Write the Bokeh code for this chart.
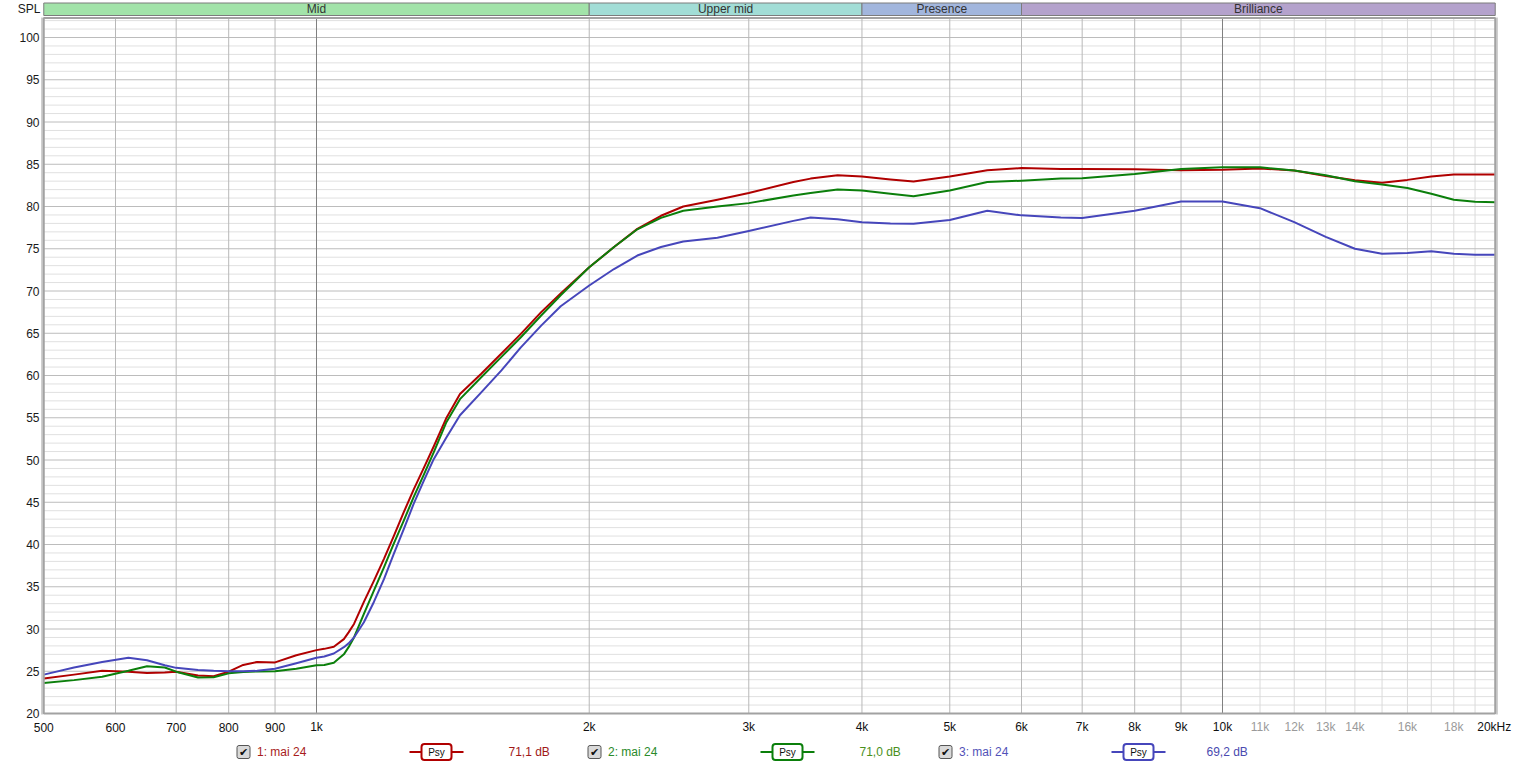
import math
from bokeh.plotting import figure
from bokeh.models import Range1d
from bokeh.embed import file_html
from bokeh.resources import INLINE
from bokeh.core.properties import value

# ---------------- data ----------------
FREQ = [500, 540, 580, 620, 650, 680, 700, 740, 770, 800, 830, 860, 900, 950, 1000,
        1020, 1045, 1072, 1085, 1100, 1128, 1157, 1187, 1217, 1248, 1280, 1314, 1347, 1390, 1440,
        1520, 1600, 1680, 1770, 1860, 2000, 2130, 2260, 2400, 2540, 2770, 3000, 3360,
        3510, 3760, 4000, 4300, 4560, 5000, 5500, 6000, 6630, 7000, 8000, 9000, 10000,
        11000, 12000, 13000, 14000, 15000, 16000, 17000, 18000, 19000, 20000]

SPL_1 = [24.15, 24.6, 25.05, 24.95, 24.8, 24.85, 24.95, 24.5, 24.4, 24.95, 25.75, 26.1, 26.05, 26.9, 27.5,
         27.65, 27.9, 28.8, 29.6, 30.6, 33.2, 35.7, 38.3, 41.0, 43.8, 46.5, 49.1, 51.6, 54.9, 57.8,
         60.2, 62.6, 64.9, 67.5, 69.7, 72.8, 75.2, 77.35, 78.9, 80.0, 80.8, 81.6, 82.9,
         83.3, 83.7, 83.55, 83.2, 82.95, 83.55, 84.3, 84.55, 84.45, 84.45, 84.4, 84.3, 84.35,
         84.5, 84.25, 83.6, 83.1, 82.8, 83.15, 83.55, 83.8, 83.8, 83.8]

SPL_2 = [23.6, 23.95, 24.35, 25.05, 25.6, 25.45, 24.95, 24.25, 24.3, 24.75, 24.9, 24.98, 25.0, 25.3, 25.7,
         25.75, 26.0, 27.0, 27.85, 29.0, 31.8, 34.55, 37.3, 40.1, 42.8, 45.6, 48.3, 50.9, 54.4, 57.2,
         59.8, 62.2, 64.5, 67.1, 69.5, 72.8, 75.2, 77.3, 78.65, 79.5, 80.0, 80.4, 81.3,
         81.6, 82.0, 81.9, 81.5, 81.2, 81.9, 82.9, 83.05, 83.3, 83.35, 83.85, 84.45, 84.65,
         84.65, 84.25, 83.7, 83.0, 82.6, 82.2, 81.5, 80.8, 80.55, 80.5]

SPL_3 = [24.6, 25.45, 26.1, 26.6, 26.3, 25.7, 25.4, 25.15, 25.05, 25.0, 25.0, 25.05, 25.3, 25.95, 26.6,
         26.75, 27.1, 27.85, 28.3, 29.0, 30.8, 33.2, 35.9, 38.9, 41.8, 44.8, 47.6, 50.1, 52.6, 55.3,
         58.0, 60.6, 63.3, 65.9, 68.2, 70.65, 72.6, 74.2, 75.2, 75.85, 76.3, 77.1, 78.3,
         78.7, 78.5, 78.15, 78.0, 77.95, 78.4, 79.5, 78.95, 78.7, 78.65, 79.5, 80.6, 80.6,
         79.8, 78.15, 76.4, 75.0, 74.4, 74.5, 74.7, 74.4, 74.3, 74.3]

SERIES = [SPL_1, SPL_2, SPL_3]
SERIES_NAMES = ["1: mai 24", "2: mai 24", "3: mai 24"]
SERIES_AVG = ["71,1 dB", "71,0 dB", "69,2 dB"]
LINE_COLORS = ["#b00000", "#0b7f0b", "#4646bb"]
NAME_COLORS = ["#a81c1c", "#2a8a2a", "#5252b8"]
AVG_COLORS = ["#a01818", "#4a901c", "#4a4ab0"]

BANDS = ["Mid", "Upper mid", "Presence", "Brilliance"]
BAND_START = [500, 2000, 4000, 6000]
BAND_END = [2000, 4000, 6000, 20000]
BAND_COLORS = ["#a2e3a9", "#a2ddd6", "#a2b6dd", "#b4a2cc"]

Y_TICKS = list(range(20, 101, 5))
Y_MINOR = list(range(21, 103))

X_TICKS = [500, 600, 700, 800, 900, 1000, 2000, 3000, 4000, 5000, 6000, 7000, 8000,
           9000, 10000, 11000, 12000, 13000, 14000, 16000, 18000]
X_TICK_LABELS = ["500", "600", "700", "800", "900", "1k", "2k", "3k", "4k", "5k", "6k",
                 "7k", "8k", "9k", "10k", "11k", "12k", "13k", "14k", "16k", "18k"]
X_TICK_COLORS = ["#111111"] * 15 + ["#9a9a9a"] * 6
X_LAST_TICK = 20000
X_LAST_LABEL = "20kHz"

X_GRID = [600, 700, 800, 900, 2000, 3000, 4000, 5000, 6000, 7000, 8000, 9000]
X_GRID_DARK = [1000, 10000]
X_GRID_LIGHT = [11000, 12000, 13000, 14000, 15000, 16000, 17000, 18000, 19000]

# ---------------- layout helpers (page pixel -> data) ----------------
W, H = 1515, 765


def hz(px):
    return 1000.0 * 10 ** ((px - 316.0) / 906.0)


def db(py):
    return 20.0 + (713.0 - py) / 8.45


F_MIN, F_MAX = 500, 20000
DB_MIN, DB_TOP = 20, db(17.5)

FONT = value("Liberation Sans")

p = figure(width=W, height=H, x_axis_type="log",
           x_range=Range1d(hz(0), hz(W)), y_range=Range1d(db(H), db(0)),
           output_backend="svg", toolbar_location=None,
           x_axis_location=None, y_axis_location=None, min_border=0)
p.outline_line_color = None
p.background_fill_color = "white"
p.border_fill_color = "white"
p.grid.visible = False

# grid
minor = [d for d in Y_MINOR if d % 5 != 0]
major = [d for d in Y_MINOR if d % 5 == 0]
p.segment(x0=[F_MIN] * len(minor), x1=[F_MAX] * len(minor), y0=minor, y1=minor,
          line_color="#e0e0e0", line_width=1)
p.segment(x0=X_GRID_LIGHT, x1=X_GRID_LIGHT, y0=[DB_MIN] * len(X_GRID_LIGHT),
          y1=[DB_TOP] * len(X_GRID_LIGHT), line_color="#dadada", line_width=1)
p.segment(x0=[F_MIN] * len(major), x1=[F_MAX] * len(major), y0=major, y1=major,
          line_color="#bcbcbc", line_width=1)
p.segment(x0=X_GRID, x1=X_GRID, y0=[DB_MIN] * len(X_GRID), y1=[DB_TOP] * len(X_GRID),
          line_color="#b8b8b8", line_width=1)
p.segment(x0=X_GRID_DARK, x1=X_GRID_DARK, y0=[DB_MIN] * 2, y1=[DB_TOP] * 2,
          line_color="#808080", line_width=1)

# curves
for vals, col in zip(SERIES, LINE_COLORS):
    p.line(FREQ, vals, line_color=col, line_width=2, line_join="round")

# frame border with shadow
p.segment(x0=[hz(41.5), hz(1496.5)], x1=[hz(41.5), hz(1496.5)], y0=[db(714)] * 2,
          y1=[db(17)] * 2, line_color="#cfcfcf", line_width=2)
p.quad(left=F_MIN, right=F_MAX, bottom=DB_MIN, top=DB_TOP, fill_color=None,
       line_color="#a2a2a2", line_width=2)

# band on top
p.quad(left=BAND_START, right=BAND_END, bottom=db(15.0), top=db(2.5),
       fill_color=BAND_COLORS, line_color="#7c7c7c", line_width=1)
p.text(x=[math.sqrt(a * b) for a, b in zip(BAND_START, BAND_END)], y=[db(8.8)] * len(BANDS),
       text=BANDS, text_font=FONT, text_font_size="12px", text_color="#333333",
       text_align="center", text_baseline="middle")

# axis labels
p.text(x=[hz(39)] * len(Y_TICKS), y=Y_TICKS, text=[str(t) for t in Y_TICKS],
       text_font=FONT, text_font_size="12px", text_color="#1a1a1a",
       text_align="right", text_baseline="middle")
p.text(x=[hz(40)], y=[db(8.5)], text=["SPL"], text_font=FONT, text_font_size="12px",
       text_color="#1a1a1a", text_align="right", text_baseline="middle")
p.text(x=X_TICKS, y=[db(726.5)] * len(X_TICKS), text=X_TICK_LABELS, text_font=FONT,
       text_font_size="12px", text_color=X_TICK_COLORS, text_align="center",
       text_baseline="middle")
p.text(x=[X_LAST_TICK], y=[db(726.5)], text=[X_LAST_LABEL], text_font=FONT,
       text_font_size="12px", text_color="#111111", text_align="center",
       text_baseline="middle", x_offset=-1)

# legend row
LEG_Y = db(751.5)
CHECK_X = [243, 594, 945]
NAME_X = [256.5, 607.5, 958.5]
PSY_X = [436, 787, 1138]
AVG_X = [508, 859, 1206]

p.rect(x=[hz(c) for c in CHECK_X], y=[LEG_Y] * 3, width=13, height=13,
       width_units="screen", height_units="screen", fill_color="#d9d9d9",
       line_color="#555555", line_width=1, border_radius=2)
p.text(x=[hz(c) for c in CHECK_X], y=[LEG_Y] * 3, text=["\u2714"] * 3,
       text_font=value("DejaVu Sans"), text_font_size="11px", text_color="#111111",
       text_align="center", text_baseline="middle")
p.text(x=[hz(c) for c in NAME_X], y=[LEG_Y] * 3, text=SERIES_NAMES, text_font=FONT,
       text_font_size="12px", text_color=NAME_COLORS, text_align="left",
       text_baseline="middle")
p.segment(x0=[hz(c - 27) for c in PSY_X], x1=[hz(c + 27) for c in PSY_X], y0=[LEG_Y] * 3,
          y1=[LEG_Y] * 3, line_color=LINE_COLORS, line_width=2)
p.rect(x=[hz(c) for c in PSY_X], y=[LEG_Y] * 3, width=30, height=16,
       width_units="screen", height_units="screen", fill_color="white",
       line_color=LINE_COLORS, line_width=2, border_radius=3)
p.text(x=[hz(c) for c in PSY_X], y=[LEG_Y] * 3, text=["Psy"] * 3, text_font=FONT,
       text_font_size="10px", text_color="#111111", text_align="center",
       text_baseline="middle")
p.text(x=[hz(c) for c in AVG_X], y=[LEG_Y] * 3, text=SERIES_AVG, text_font=FONT,
       text_font_size="12px", text_color=AVG_COLORS, text_align="left",
       text_baseline="middle")

open("out.html", "w").write(file_html(p, INLINE))
